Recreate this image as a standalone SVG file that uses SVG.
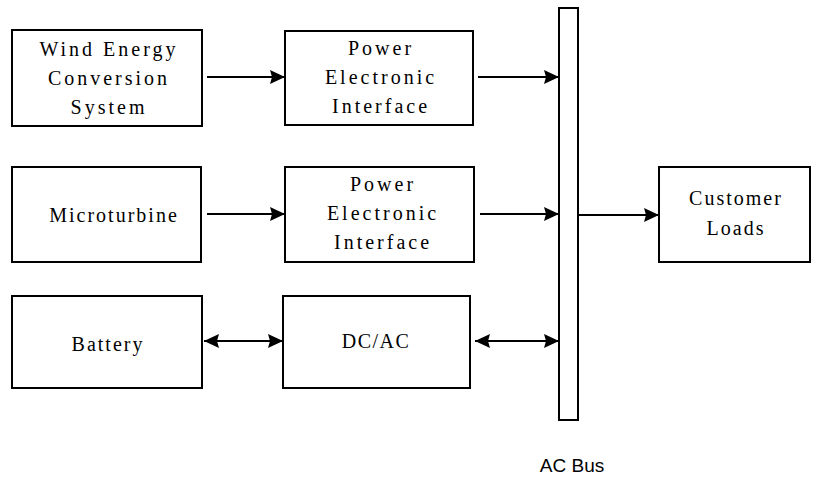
<svg xmlns="http://www.w3.org/2000/svg" width="836" height="479" viewBox="0 0 836 479">
<style>
.box{fill:#fff;stroke:#000;stroke-width:2}
.t{font-size:20px;letter-spacing:3px;text-anchor:middle;fill:#000}
.s{font-size:19px;text-anchor:middle;fill:#000}
.ln{stroke:#000;stroke-width:2;fill:none}
</style>
<defs>
<marker id="ah" viewBox="0 0 15 14" refX="15" refY="7" markerWidth="15" markerHeight="14" markerUnits="userSpaceOnUse" orient="auto-start-reverse">
<path d="M0,0 L15,7 L0,14 L2,7 Z" fill="#000"/>
</marker>
</defs>
<g font-family="'Liberation Serif', 'DejaVu Serif', serif">
<g id="wecs"><rect class="box" x="12" y="30" width="190" height="96"/>
<text class="t" x="109" y="56">Wind Energy</text><text class="t" x="109" y="85">Conversion</text><text class="t" x="109" y="114">System</text></g>
<g id="pei1"><rect class="box" x="285" y="31" width="188" height="94"/>
<text class="t" x="381" y="55">Power</text><text class="t" x="381" y="84">Electronic</text><text class="t" x="381" y="113">Interface</text></g>
<g id="micro"><rect class="box" x="12" y="167" width="189" height="95"/>
<text class="t" x="114" y="222" style="letter-spacing:2px">Microturbine</text></g>
<g id="pei2"><rect class="box" x="285" y="167" width="189" height="95"/>
<text class="t" x="383" y="191">Power</text><text class="t" x="383" y="220">Electronic</text><text class="t" x="383" y="249">Interface</text></g>
<g id="battery"><rect class="box" x="12" y="296" width="190" height="92"/>
<text class="t" x="108" y="351" style="letter-spacing:2px">Battery</text></g>
<g id="dcac"><rect class="box" x="283" y="296" width="187" height="92"/>
<text class="t" x="376" y="348" style="letter-spacing:1.5px">DC/AC</text></g>
<g id="loads"><rect class="box" x="659" y="167" width="151" height="95"/>
<text class="t" x="736" y="205" style="letter-spacing:2px">Customer</text><text class="t" x="736" y="235" style="letter-spacing:2px">Loads</text></g>
</g>
<g id="acbus"><rect class="box" x="559" y="8" width="19" height="412"/>
<text class="s" x="572" y="472" font-family="'Liberation Sans', Arial, sans-serif">AC Bus</text></g>
<g id="connectors">
<line class="ln" x1="207" y1="77" x2="285" y2="77" marker-end="url(#ah)"/>
<line class="ln" x1="478" y1="77" x2="559" y2="77" marker-end="url(#ah)"/>
<line class="ln" x1="207" y1="214" x2="285" y2="214" marker-end="url(#ah)"/>
<line class="ln" x1="480" y1="214" x2="559" y2="214" marker-end="url(#ah)"/>
<line class="ln" x1="579" y1="215" x2="659" y2="215" marker-end="url(#ah)"/>
<line class="ln" x1="204" y1="341" x2="283" y2="341" marker-start="url(#ah)" marker-end="url(#ah)"/>
<line class="ln" x1="475" y1="341" x2="559" y2="341" marker-start="url(#ah)" marker-end="url(#ah)"/>
</g>
</svg>
